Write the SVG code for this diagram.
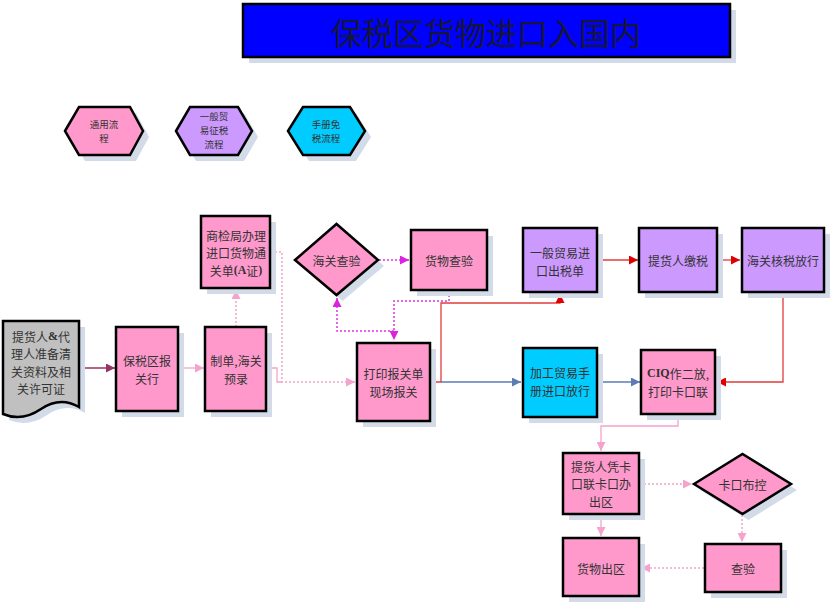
<svg xmlns="http://www.w3.org/2000/svg" width="832" height="605" viewBox="0 0 832 605">
<style>
  .box{stroke:#000;stroke-width:2.5;}
  .pink{fill:#FF99CC;}
  .purple{fill:#CC99FF;}
  .cyan{fill:#00CCFF;}
  .gray{fill:#C0C0C0;}
  .shadow{fill:#D3DBE8;stroke:none;}
  .t{font-family:"Noto Sans CJK SC","Liberation Sans",sans-serif;font-size:12px;fill:#333;text-anchor:middle;dominant-baseline:central;}
  .ts{font-family:"Noto Sans CJK SC","Liberation Sans",sans-serif;font-size:9.5px;fill:#333;text-anchor:middle;dominant-baseline:central;}
  .b{font-family:"Liberation Serif",serif;font-weight:bold;}
  .c{fill:none;stroke-width:1.3;}
  .dot{stroke-dasharray:2 2;stroke-width:1.5;}
  .maroon{stroke:#993366;}
  .lp{stroke:#F5A3CC;}
  .mg{stroke:#DD33DD;}
  .red{stroke:#E03C3C;}
  .blue{stroke:#5B7DB3;}
</style>
<defs>
  <marker id="mMaroon" viewBox="0 0 10 10" refX="10" refY="5" markerWidth="9" markerHeight="9" markerUnits="userSpaceOnUse" orient="auto"><path d="M0,0 L10,5 L0,10 z" fill="#993366"/></marker>
  <marker id="mPink" viewBox="0 0 10 10" refX="10" refY="5" markerWidth="9" markerHeight="9" markerUnits="userSpaceOnUse" orient="auto"><path d="M0,0 L10,5 L0,10 z" fill="#F5A3CC"/></marker>
  <marker id="mMag" viewBox="0 0 10 10" refX="10" refY="5" markerWidth="9" markerHeight="9" markerUnits="userSpaceOnUse" orient="auto"><path d="M0,0 L10,5 L0,10 z" fill="#DD22DD"/></marker>
  <marker id="mRed" viewBox="0 0 10 10" refX="10" refY="5" markerWidth="9" markerHeight="9" markerUnits="userSpaceOnUse" orient="auto"><path d="M0,0 L10,5 L0,10 z" fill="#E00000"/></marker>
  <marker id="mBlue" viewBox="0 0 10 10" refX="10" refY="5" markerWidth="9" markerHeight="9" markerUnits="userSpaceOnUse" orient="auto"><path d="M0,0 L10,5 L0,10 z" fill="#5B7DB3"/></marker>
</defs>
<rect width="832" height="605" fill="#fff"/>

<g id="title">
  <rect class="shadow" x="249" y="10" width="487" height="53"/>
  <rect x="243" y="4" width="487" height="53" fill="#0000FF" stroke="#000" stroke-width="2.5"/>
  <text x="486" y="31" font-family="Noto Sans CJK SC, Liberation Sans, sans-serif" font-size="31" fill="#16163A" text-anchor="middle" dominant-baseline="central">保税区货物进口入国内</text>
</g>

<g id="legend-common">
  <polygon class="shadow" points="71,137 85,113 136,113 149,137 136,161 85,161"/>
  <polygon class="box pink" points="65,131 79,107 130,107 143,131 130,155 79,155"/>
  <text class="ts" x="104" y="124">通用流</text>
  <text class="ts" x="104" y="138">程</text>
</g>
<g id="legend-general">
  <polygon class="shadow" points="182,137 196,113 244,113 258,137 244,161 196,161"/>
  <polygon class="box purple" points="176,131 190,107 238,107 252,131 238,155 190,155"/>
  <text class="ts" x="214" y="116">一般贸</text>
  <text class="ts" x="214" y="130">易征税</text>
  <text class="ts" x="214" y="144">流程</text>
</g>
<g id="legend-manual">
  <polygon class="shadow" points="294,137 309,113 356,113 371,137 356,161 309,161"/>
  <polygon class="box cyan" points="288,131 303,107 350,107 365,131 350,155 303,155"/>
  <text class="ts" x="326" y="124">手册免</text>
  <text class="ts" x="326" y="138">税流程</text>
</g>

<g id="connectors">
  <path class="c maroon" d="M80,368 H115" marker-end="url(#mMaroon)"/>
  <path class="c lp" d="M178,368 H204" marker-end="url(#mPink)"/>
  <path class="c lp dot" d="M236,327 V290" marker-end="url(#mPink)"/>
  <path class="c lp" d="M266,368 H277 V382 H282"/>
  <path class="c lp dot" d="M271,252 H282 V382 H355" marker-end="url(#mPink)"/>
  <path class="c mg dot" d="M379,260 H409" marker-end="url(#mMag)"/>
  <path class="c mg dot" d="M449,291 V301 H394 V340" marker-end="url(#mMag)"/>
  <path class="c mg dot" d="M394,331 H337 V298" marker-end="url(#mMag)"/>
  <path class="c red" d="M430,382 H441 V303 H560 V294" marker-end="url(#mRed)"/>
  <path class="c red" d="M598,260 H638" marker-end="url(#mRed)"/>
  <path class="c red" d="M718,260 H740" marker-end="url(#mRed)"/>
  <path class="c red" d="M783,293 V382 H717" marker-end="url(#mRed)"/>
  <path class="c blue" d="M441,382 H521" marker-end="url(#mBlue)"/>
  <path class="c blue" d="M598,382 H640" marker-end="url(#mBlue)"/>
  <path class="c lp" d="M678,415 V426 H601 V451" marker-end="url(#mPink)"/>
  <path class="c lp" d="M601,515 V536" marker-end="url(#mPink)"/>
  <path class="c lp dot" d="M640,484 H692" marker-end="url(#mPink)"/>
  <path class="c lp dot" d="M742,515 V542" marker-end="url(#mPink)"/>
  <path class="c lp dot" d="M704,568 H641" marker-end="url(#mPink)"/>
</g>

<g id="n-doc">
  <path class="shadow" d="M9,327 H85 V413 Q66,402 47,415 T9,420 Z"/>
  <path class="box gray" d="M3,321 H79 V407 Q60,396 41,409 T3,414 Z"/>
  <text class="t" x="41" y="336">提货人<tspan class="b">&amp;</tspan>代</text>
  <text class="t" x="41" y="353.5">理人准备清</text>
  <text class="t" x="41" y="371">关资料及相</text>
  <text class="t" x="41" y="388.5">关许可证</text>
</g>

<g id="n-bsq">
  <rect class="shadow" x="122" y="333" width="62" height="84"/>
  <rect class="box pink" x="116" y="327" width="62" height="84"/>
  <text class="t" x="147" y="360.5">保税区报</text>
  <text class="t" x="147" y="378">关行</text>
</g>

<g id="n-zhidan">
  <rect class="shadow" x="211" y="333" width="61" height="84"/>
  <rect class="box pink" x="205" y="327" width="61" height="84"/>
  <text class="t" x="236" y="360.5">制单,海关</text>
  <text class="t" x="236" y="378">预录</text>
</g>

<g id="n-shangjian">
  <rect class="shadow" x="207" y="222" width="69" height="72"/>
  <rect class="box pink" x="201" y="216" width="69" height="72"/>
  <text class="t" x="236" y="235">商检局办理</text>
  <text class="t" x="236" y="252.5">进口货物通</text>
  <text class="t" x="236" y="270">关单<tspan class="b">(A</tspan>证<tspan class="b">)</tspan></text>
</g>

<g id="n-hgcy">
  <polygon class="shadow" points="301,266 342.5,230 384,266 342.5,301"/>
  <polygon class="box pink" points="295,260 336.5,224 378,260 336.5,295"/>
  <text class="t" x="336.5" y="260">海关查验</text>
</g>

<g id="n-hwcy">
  <rect class="shadow" x="417" y="236" width="76" height="60"/>
  <rect class="box pink" x="411" y="230" width="76" height="60"/>
  <text class="t" x="449" y="260">货物查验</text>
</g>

<g id="n-dayin">
  <rect class="shadow" x="363" y="349" width="73" height="78"/>
  <rect class="box pink" x="357" y="343" width="73" height="78"/>
  <text class="t" x="393.5" y="373">打印报关单</text>
  <text class="t" x="393.5" y="391">现场报关</text>
</g>

<g id="n-ybmy">
  <rect class="shadow" x="529" y="234" width="74" height="64"/>
  <rect class="box purple" x="523" y="228" width="74" height="64"/>
  <text class="t" x="560" y="252">一般贸易进</text>
  <text class="t" x="560" y="270">口出税单</text>
</g>

<g id="n-jiaoshui">
  <rect class="shadow" x="645" y="234" width="78" height="64"/>
  <rect class="box purple" x="639" y="228" width="78" height="64"/>
  <text class="t" x="678" y="260">提货人缴税</text>
</g>

<g id="n-heshui">
  <rect class="shadow" x="748" y="234" width="82" height="64"/>
  <rect class="box purple" x="742" y="228" width="82" height="64"/>
  <text class="t" x="783" y="260">海关核税放行</text>
</g>

<g id="n-jiagong">
  <rect class="shadow" x="529" y="354" width="74" height="69"/>
  <rect class="box cyan" x="523" y="348" width="74" height="69"/>
  <text class="t" x="560" y="372">加工贸易手</text>
  <text class="t" x="560" y="390">册进口放行</text>
</g>

<g id="n-ciq">
  <rect class="shadow" x="647" y="356" width="74" height="64"/>
  <rect class="box pink" x="641" y="350" width="74" height="64"/>
  <text class="t" x="678" y="373"><tspan class="b">CIQ</tspan>作二放,</text>
  <text class="t" x="678" y="391">打印卡口联</text>
</g>

<g id="n-pingkakou">
  <rect class="shadow" x="569" y="459" width="76" height="61"/>
  <rect class="box pink" x="563" y="453" width="76" height="61"/>
  <text class="t" x="601" y="466">提货人凭卡</text>
  <text class="t" x="601" y="483.5">口联卡口办</text>
  <text class="t" x="601" y="501">出区</text>
</g>

<g id="n-kakou">
  <polygon class="shadow" points="700,490 748.5,460 797,490 748.5,520"/>
  <polygon class="box pink" points="694,484 742.5,454 791,484 742.5,514"/>
  <text class="t" x="742.5" y="484">卡口布控</text>
</g>

<g id="n-chuqu">
  <rect class="shadow" x="569" y="544" width="76" height="58"/>
  <rect class="box pink" x="563" y="538" width="76" height="58"/>
  <text class="t" x="601" y="568">货物出区</text>
</g>

<g id="n-chayan">
  <rect class="shadow" x="711" y="550" width="76" height="48"/>
  <rect class="box pink" x="705" y="544" width="76" height="48"/>
  <text class="t" x="743" y="568">查验</text>
</g>
</svg>
